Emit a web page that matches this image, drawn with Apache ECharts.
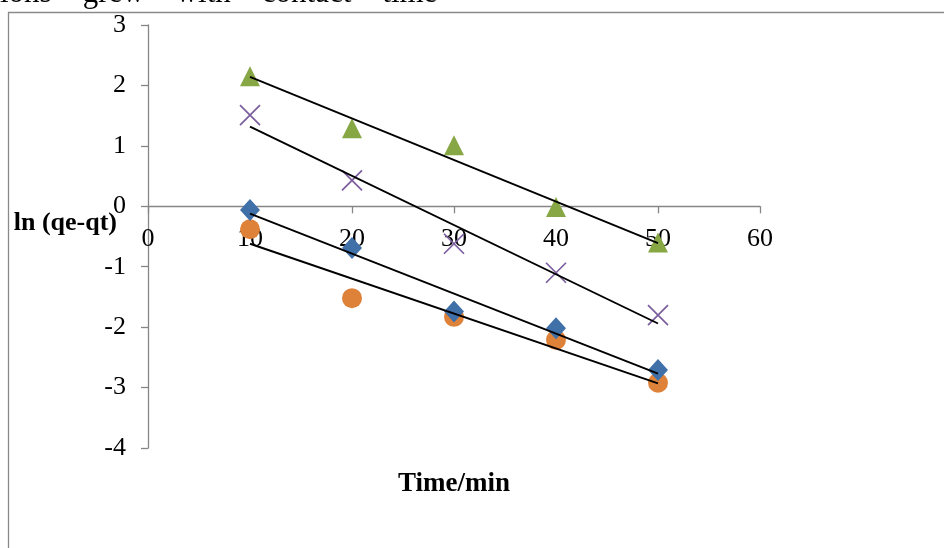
<!DOCTYPE html>
<html>
<head>
<meta charset="utf-8">
<script src="https://cdn.jsdelivr.net/npm/echarts@6/dist/echarts.min.js"></script>
<style>
  html, body { margin: 0; padding: 0; background: #fff; }
  #chart { width: 944px; height: 548px; }
</style>
</head>
<body>
<div id="chart"></div>
<script>
// ---- data ----
const timeMin = [10, 20, 30, 40, 50];
const seriesBlue   = [-0.06, -0.69, -1.74, -2.02, -2.71];
const seriesOrange = [-0.38, -1.52, -1.83, -2.21, -2.92];
const seriesGreen  = [2.15, 1.29, 1.01, -0.01, -0.60];
const seriesPurple = [1.51, 0.43, -0.62, -1.10, -1.80];
// trendline values at x = 10 and x = 50
const trendX = [10, 50];
const trendBlue   = [-0.12, -2.77];
const trendOrange = [-0.62, -2.93];
const trendGreen  = [2.14, -0.61];
const trendPurple = [1.32, -1.94];
const yTicks = { min: -4, max: 3, step: 1 };
const xTicks = { min: 0, max: 60, step: 10 };
const topText = 'ions\u00a0\u00a0\u00a0\u00a0grew\u00a0\u00a0\u00a0\u00a0with\u00a0\u00a0\u00a0\u00a0contact\u00a0\u00a0\u00a0\u00a0time';
const xName = 'Time/min';
const yName = 'ln (qe-qt)';

const FONT = '"Liberation Serif", "Times New Roman", serif';
const AXIS_GRAY = '#868686';

function pts(xs, ys) { return xs.map((x, i) => [x, ys[i]]); }

function scatter(name, ys, symbol, color, size, extra) {
  return Object.assign({
    name: name,
    type: 'scatter',
    data: pts(timeMin, ys),
    symbol: symbol,
    symbolSize: size,
    itemStyle: { color: color, opacity: 1 },
    z: 3
  }, extra || {});
}
function trend(name, ys) {
  return {
    name: name,
    type: 'line',
    data: pts(trendX, ys),
    symbol: 'none',
    lineStyle: { color: '#000', width: 1.9 },
    z: 5,
    silent: true
  };
}

const chart = echarts.init(document.getElementById('chart'), null, { renderer: 'canvas' });
chart.setOption({
  animation: false,
  backgroundColor: '#fff',
  grid: { left: 148, right: 184, top: 25, bottom: 100, containLabel: false, outerBoundsMode: 'none' },
  graphic: [
    {
      type: 'rect',
      shape: { x: 8.5, y: 12.5, width: 1000, height: 1000 },
      style: { fill: 'none', stroke: '#8a8a8a', lineWidth: 1.3 },
      z: -1
    },
    {
      type: 'text',
      x: 0, y: -6,
      style: { text: topText, font: '31px ' + FONT, fill: '#000', verticalAlign: 'middle', align: 'left' }
    }
  ],
  xAxis: {
    type: 'value',
    min: xTicks.min, max: xTicks.max, interval: xTicks.step,
    name: xName,
    nameLocation: 'middle',
    nameGap: 23,
    nameMoveOverlap: false,
    nameTextStyle: { fontFamily: FONT, fontSize: 27, fontWeight: 'bold', color: '#000' },
    axisLine: { show: true, onZero: true, lineStyle: { color: AXIS_GRAY, width: 1.3 } },
    axisTick: { show: true, length: 7, lineStyle: { color: AXIS_GRAY, width: 1.3 } },
    axisLabel: { fontFamily: FONT, fontSize: 26, color: '#000', margin: -222 },
    splitLine: { show: false }
  },
  yAxis: {
    type: 'value',
    min: yTicks.min, max: yTicks.max, interval: yTicks.step,
    name: yName,
    nameLocation: 'middle',
    nameRotate: 0,
    nameGap: 31,
    nameMoveOverlap: false,
    nameTextStyle: { fontFamily: FONT, fontSize: 26, fontWeight: 'bold', color: '#000', verticalAlign: 'bottom' },
    axisLine: { show: true, onZero: false, lineStyle: { color: AXIS_GRAY, width: 1.3 } },
    axisTick: { show: true, length: 7, lineStyle: { color: AXIS_GRAY, width: 1.3 } },
    axisLabel: { fontFamily: FONT, fontSize: 26, color: '#000', margin: 22 },
    splitLine: { show: false }
  },
  series: [
    scatter('Orange', seriesOrange, 'circle', '#DF8239', 20),
    scatter('Blue', seriesBlue, 'diamond', '#4070A8', [20, 22]),
    scatter('Green', seriesGreen, 'triangle', '#87A745', [20, 20]),
    scatter('Purple', seriesPurple, 'path://M0,0L20,20M20,0L0,20', 'none', [20, 20],
      { itemStyle: { color: 'none', borderColor: '#7B5E9E', borderWidth: 1.7, opacity: 1 } }),
    trend('Blue trend', trendBlue),
    trend('Orange trend', trendOrange),
    trend('Green trend', trendGreen),
    trend('Purple trend', trendPurple)
  ]
});
</script>
</body>
</html>
